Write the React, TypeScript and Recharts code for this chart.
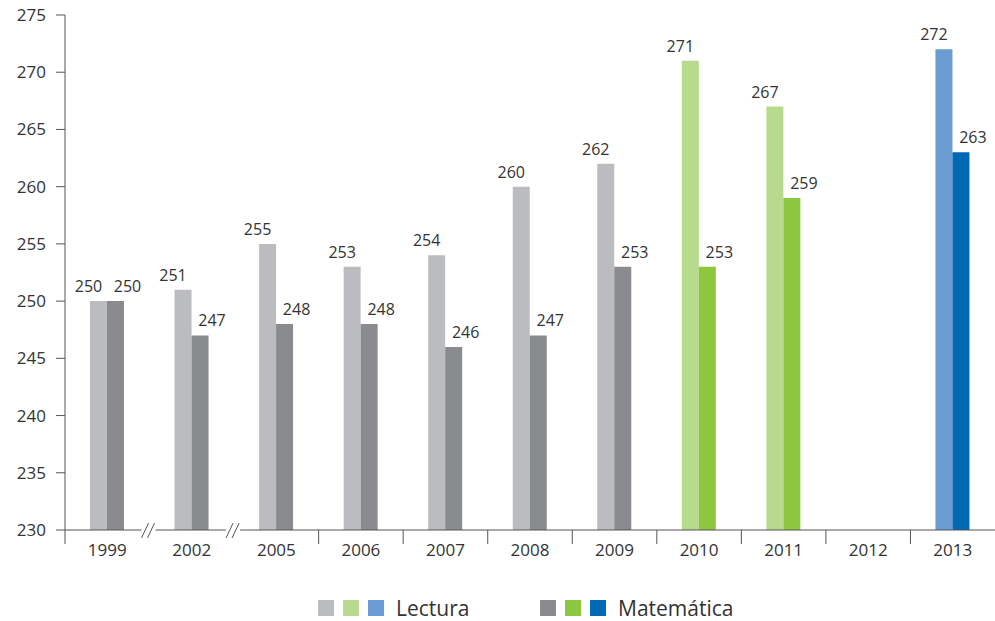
import React from "react";
import {
  ComposedChart,
  Bar,
  Cell,
  XAxis,
  YAxis,
  LabelList,
  Legend,
} from "recharts";

const years = ["1999", "2002", "2005", "2006", "2007", "2008", "2009", "2010", "2011", "2012", "2013"];
const lectura = [250, 251, 255, 253, 254, 260, 262, 271, 267, null, 272];
const matematica = [250, 247, 248, 248, 246, 247, 253, 253, 259, null, 263];
const yTicks = [230, 235, 240, 245, 250, 255, 260, 265, 270, 275];

const lecturaColors = ["#bbbcc0", "#bbbcc0", "#bbbcc0", "#bbbcc0", "#bbbcc0", "#bbbcc0", "#bbbcc0", "#b8da8d", "#b8da8d", "#b8da8d", "#6a9bd1"];
const matematicaColors = ["#8a8b8f", "#8a8b8f", "#8a8b8f", "#8a8b8f", "#8a8b8f", "#8a8b8f", "#8a8b8f", "#8dc63f", "#8dc63f", "#8dc63f", "#0069b4"];

const data = years.map((year, i) => ({
  year,
  lectura: lectura[i],
  matematica: matematica[i],
}));

const FONT = "'Open Sans', sans-serif";
const AXIS = "#555";
const TEXT = "#333";
const WIDTH = 995;
const HEIGHT = 621;
const LEFT = 65;
const BAND = (WIDTH - LEFT) / years.length;

const XTick = (props: any) => {
  const { x, y, index, payload } = props;
  const left = x - BAND / 2;
  const axisY = y - 8;
  let mark;
  if (index === 1 || index === 2) {
    mark = (
      <g stroke={AXIS} strokeWidth={1}>
        <line x1={left - 8} y1={axisY} x2={left + 6} y2={axisY} stroke="#fff" strokeWidth={3} />
        <line x1={left - 8} y1={axisY + 8} x2={left - 1} y2={axisY - 7} />
        <line x1={left - 2} y1={axisY + 8} x2={left + 5} y2={axisY - 7} />
      </g>
    );
  } else {
    mark = <line x1={left} y1={axisY} x2={left} y2={axisY + 14} stroke={AXIS} strokeWidth={1} />;
  }
  return (
    <g>
      {mark}
      <text x={x} y={y + 18} textAnchor="middle" fontSize={17} fill={TEXT} fontFamily={FONT}>
        {payload.value}
      </text>
    </g>
  );
};

const makeLabel = (shift: number) => (props: any) => {
  const { x, y, width, value } = props;
  if (value == null) return null;
  return (
    <text x={x + width / 2 + shift} y={y - 9} textAnchor="middle" fontSize={16} fill={TEXT} fontFamily={FONT}>
      {value}
    </text>
  );
};

const LegendContent = () => {
  const group = (colors: string[], label: string, x: number) => (
    <div style={{ position: "absolute", left: x, top: 0, height: 30, display: "flex", alignItems: "center" }}>
      {colors.map((c) => (
        <span key={c} style={{ display: "inline-block", width: 16, height: 16, background: c, marginRight: 9 }} />
      ))}
      <span style={{ fontSize: 21, lineHeight: "30px", color: TEXT, fontFamily: FONT, marginLeft: 3, whiteSpace: "nowrap" }}>
        {label}
      </span>
    </div>
  );
  return (
    <div style={{ position: "relative", width: WIDTH, height: 30 }}>
      {group(["#bbbcc0", "#b8da8d", "#6a9bd1"], "Lectura", 318)}
      {group(["#8a8b8f", "#8dc63f", "#0069b4"], "Matemática", 540)}
    </div>
  );
};

export default function App() {
  return (
    <div style={{ position: "absolute", left: 0, top: 0, background: "#fff" }}>
      <ComposedChart
        width={WIDTH}
        height={HEIGHT}
        data={data}
        margin={{ top: 15, right: 0, bottom: 21, left: 0 }}
        barGap={0}
        barCategoryGap={0}
      >
        <YAxis
          domain={[230, 275]}
          ticks={yTicks}
          width={LEFT}
          interval={0}
          axisLine={{ stroke: AXIS }}
          tickLine={{ stroke: AXIS }}
          tickSize={9}
          tickMargin={10}
          tick={{ fontSize: 17, fill: TEXT, fontFamily: FONT }}
          allowDataOverflow
        />
        <XAxis
          dataKey="year"
          height={40}
          interval={0}
          axisLine={{ stroke: AXIS }}
          tickLine={false}
          tick={<XTick />}
        />
        <Bar dataKey="lectura" barSize={17} isAnimationActive={false}>
          {data.map((_, i) => (
            <Cell key={`l-${i}`} fill={lecturaColors[i]} />
          ))}
          <LabelList dataKey="lectura" content={makeLabel(-10)} />
        </Bar>
        <Bar dataKey="matematica" barSize={17} isAnimationActive={false}>
          {data.map((_, i) => (
            <Cell key={`m-${i}`} fill={matematicaColors[i]} />
          ))}
          <LabelList dataKey="matematica" content={makeLabel(12)} />
        </Bar>
        <Legend
          verticalAlign="bottom"
          height={30}
          content={<LegendContent />}
          wrapperStyle={{ top: 593, bottom: "auto", left: 0, width: WIDTH }}
        />
      </ComposedChart>
    </div>
  );
}
